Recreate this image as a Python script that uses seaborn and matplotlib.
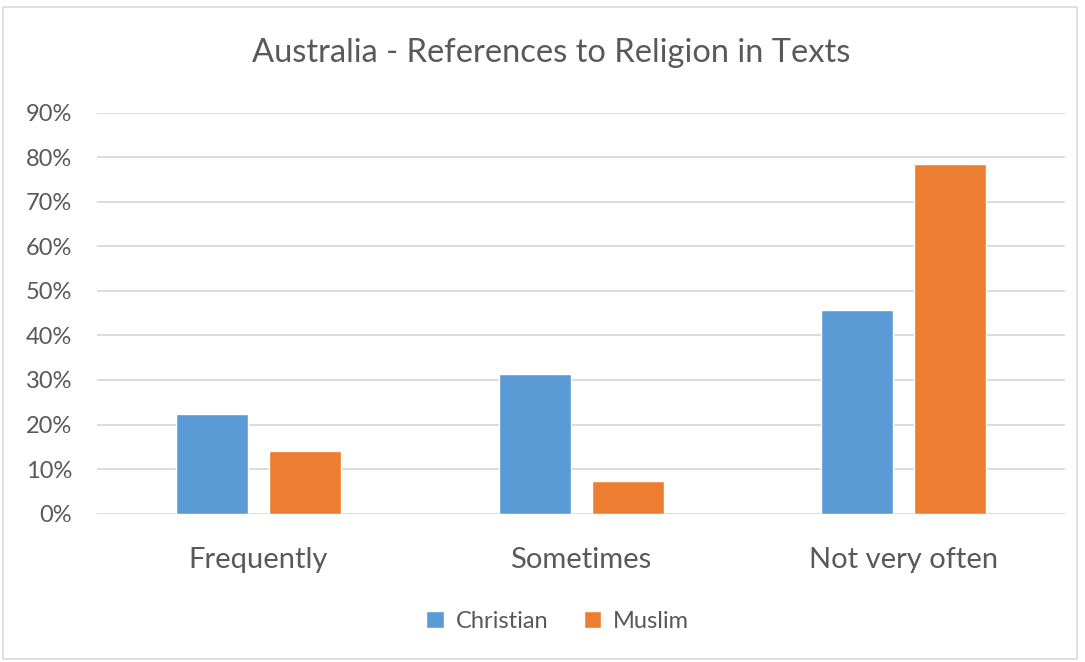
import matplotlib
matplotlib.use("Agg")
import matplotlib.pyplot as plt
import seaborn as sns
import pandas as pd
from matplotlib.patches import Rectangle
from matplotlib.ticker import PercentFormatter

# ==================== data ====================
categories = ["Frequently", "Sometimes", "Not very often"]
christian = [0.223, 0.314, 0.457]
muslim = [0.141, 0.074, 0.784]
series_names = ["Christian", "Muslim"]

COLORS = {"Christian": "#5B9BD5", "Muslim": "#ED7D31"}
TEXT = "#595959"
GRID = "#D9D9D9"

df = pd.DataFrame({
    "category": categories * 2,
    "value": christian + muslim,
    "series": [series_names[0]] * 3 + [series_names[1]] * 3,
})

sns.set_theme(style="white")
plt.rcParams["font.family"] = ["Lato", "DejaVu Sans"]

fig = plt.figure(figsize=(10.85, 6.62), dpi=100)
ax = fig.add_axes([0.089, 0.224, 0.893, 0.606])

sns.barplot(data=df, x="category", y="value", hue="series", order=categories,
            hue_order=series_names, palette=COLORS, width=0.576, gap=0.226,
            saturation=1, ax=ax, legend=True)

ax.set_ylim(0, 0.9)
ax.set_yticks([i / 10 for i in range(10)])
ax.yaxis.set_major_formatter(PercentFormatter(1.0, decimals=0))
ax.grid(axis="y", color=GRID, linewidth=1.3)
ax.set_axisbelow(True)
for s in ax.spines.values():
    s.set_visible(False)
ax.tick_params(axis="y", labelsize=17, colors=TEXT, length=0, pad=17.5)
ax.tick_params(axis="x", labelsize=21, colors=TEXT, length=0, pad=24)
ax.set_xlabel("")
ax.set_ylabel("")

fig.text(0.508, 1 - 53 / 662, "Australia - References to Religion in Texts",
         fontsize=23.5, color=TEXT, ha="center", va="center")

handles, labels = ax.get_legend_handles_labels()
ax.get_legend().remove()
fig.legend(handles, labels, loc="center", bbox_to_anchor=(0.514, 1 - 621 / 662),
           ncol=2, frameon=False, fontsize=17, labelcolor=TEXT,
           handlelength=0.75, handleheight=0.75, columnspacing=1.5, handletextpad=0.5)

# chart frame
fig.patches.append(Rectangle((0.003, 0.004), 0.99, 0.986, transform=fig.transFigure,
                             fill=False, edgecolor=GRID, linewidth=1.2))

fig.savefig("out.png", dpi=100)
